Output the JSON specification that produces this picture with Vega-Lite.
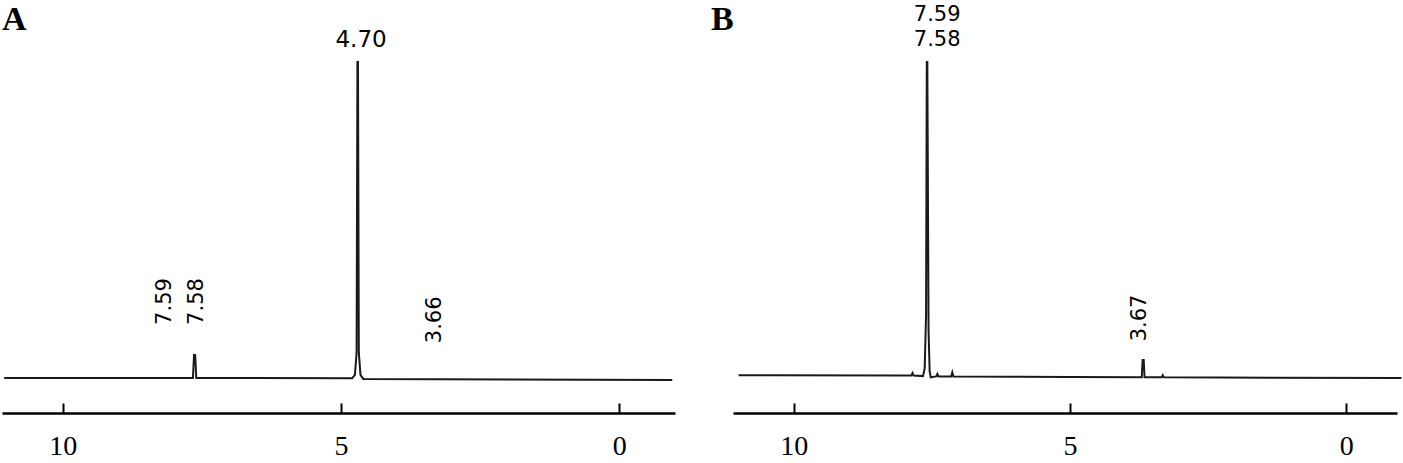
{
  "$schema": "https://vega.github.io/schema/vega-lite/v6.json",
  "padding": 0,
  "background": "white",
  "config": {"view": {"stroke": null}},
  "spacing": 58,
  "bounds": "flush",
  "datasets": {
    "specA": [
      {"ppm": 11.05, "v": 0},
      {"ppm": 7.66, "v": 0},
      {"ppm": 7.64, "v": 7.3},
      {"ppm": 7.62, "v": 7.3},
      {"ppm": 7.60, "v": 0},
      {"ppm": 4.80, "v": -0.1},
      {"ppm": 4.75, "v": 1.0},
      {"ppm": 4.72, "v": 8},
      {"ppm": 4.705, "v": 100},
      {"ppm": 4.695, "v": 100},
      {"ppm": 4.68, "v": 8},
      {"ppm": 4.65, "v": 1.0},
      {"ppm": 4.60, "v": -0.3},
      {"ppm": -0.95, "v": -0.6}
    ],
    "specB": [
      {"ppm": 11.0, "v": 0.9},
      {"ppm": 8.0, "v": 0.8},
      {"ppm": 7.87, "v": 0.8},
      {"ppm": 7.85, "v": 1.6},
      {"ppm": 7.83, "v": 0.8},
      {"ppm": 7.66, "v": 0.6},
      {"ppm": 7.63, "v": 3},
      {"ppm": 7.605, "v": 20},
      {"ppm": 7.592, "v": 100},
      {"ppm": 7.582, "v": 100},
      {"ppm": 7.56, "v": 15},
      {"ppm": 7.54, "v": 2},
      {"ppm": 7.52, "v": 0.2},
      {"ppm": 7.42, "v": 0.5},
      {"ppm": 7.40, "v": 1.3},
      {"ppm": 7.38, "v": 0.5},
      {"ppm": 7.15, "v": 0.5},
      {"ppm": 7.13, "v": 1.8},
      {"ppm": 7.11, "v": 0.5},
      {"ppm": 5.0, "v": 0.3},
      {"ppm": 3.70, "v": 0.2},
      {"ppm": 3.685, "v": 5.7},
      {"ppm": 3.665, "v": 5.7},
      {"ppm": 3.65, "v": 0.2},
      {"ppm": 3.34, "v": 0.2},
      {"ppm": 3.32, "v": 0.9},
      {"ppm": 3.30, "v": 0.2},
      {"ppm": -1.0, "v": 0}
    ],
    "horizA": [{"ppm": 4.64, "v": 107.0, "label": "4.70"}],
    "rotA": [
      {"ppm": 8.155, "v": 24.2, "label": "7.59"},
      {"ppm": 7.58, "v": 24.2, "label": "7.58"},
      {"ppm": 3.316, "v": 18.4, "label": "3.66"}
    ],
    "panelA": [{"ppm": 11.09, "v": 110.0, "label": "A"}],
    "horizB": [
      {"ppm": 7.404, "v": 115.0, "label": "7.59"},
      {"ppm": 7.404, "v": 107.1, "label": "7.58"}
    ],
    "rotB": [{"ppm": 3.727, "v": 19.0, "label": "3.67"}],
    "panelB": [{"ppm": 11.5, "v": 110.0, "label": "B"}]
  },
  "hconcat": [
    {
      "width": 673,
      "height": 413,
      "layer": [
        {
          "data": {"name": "specA"},
          "mark": {"type": "line", "color": "#1a1a1a", "strokeWidth": 2, "clip": false},
          "encoding": {
            "x": {"field": "ppm", "type": "quantitative", "sort": null,
                  "scale": {"domain": [11.09, -1.0], "nice": false, "zero": false},
                  "axis": {"values": [10, 5, 0], "title": null, "grid": false, "domainColor": "black", "domainWidth": 2.5,
                           "tickColor": "black", "tickWidth": 2, "tickSize": -10, "labelPadding": 29,
                           "labelFont": "Liberation Serif", "labelFontSize": 28, "labelColor": "black",
                           "format": "d", "labelFlush": false, "labelOverlap": false}},
            "y": {"field": "v", "type": "quantitative",
                  "scale": {"domain": [-11.08, 119.6], "nice": false, "zero": false}, "axis": null},
            "order": {"field": "ppm", "sort": "descending"}
          }
        },
        {
          "data": {"name": "horizA"},
          "mark": {"type": "text", "font": "DejaVu Sans", "fontSize": 23, "color": "black", "baseline": "middle", "align": "center"},
          "encoding": {"x": {"field": "ppm", "type": "quantitative"}, "y": {"field": "v", "type": "quantitative"}, "text": {"field": "label"}}
        },
        {
          "data": {"name": "rotA"},
          "mark": {"type": "text", "font": "DejaVu Sans", "fontSize": 21, "color": "black", "baseline": "middle", "align": "center", "angle": 270},
          "encoding": {"x": {"field": "ppm", "type": "quantitative"}, "y": {"field": "v", "type": "quantitative"}, "text": {"field": "label"}}
        },
        {
          "data": {"name": "panelA"},
          "mark": {"type": "text", "font": "Liberation Serif", "fontWeight": "bold", "fontSize": 34, "color": "black", "baseline": "alphabetic", "align": "left"},
          "encoding": {"x": {"field": "ppm", "type": "quantitative"}, "y": {"field": "v", "type": "quantitative"}, "text": {"field": "label"}}
        }
      ]
    },
    {
      "width": 664,
      "height": 413,
      "layer": [
        {
          "data": {"name": "specB"},
          "mark": {"type": "line", "color": "#1a1a1a", "strokeWidth": 2, "clip": false},
          "encoding": {
            "x": {"field": "ppm", "type": "quantitative", "sort": null,
                  "scale": {"domain": [11.1, -0.92], "nice": false, "zero": false},
                  "axis": {"values": [10, 5, 0], "title": null, "grid": false, "domainColor": "black", "domainWidth": 2.5,
                           "tickColor": "black", "tickWidth": 2, "tickSize": -10, "labelPadding": 29,
                           "labelFont": "Liberation Serif", "labelFontSize": 28, "labelColor": "black",
                           "format": "d", "labelFlush": false, "labelOverlap": false}},
            "y": {"field": "v", "type": "quantitative",
                  "scale": {"domain": [-11.08, 119.6], "nice": false, "zero": false}, "axis": null},
            "order": {"field": "ppm", "sort": "descending"}
          }
        },
        {
          "data": {"name": "horizB"},
          "mark": {"type": "text", "font": "DejaVu Sans", "fontSize": 21, "color": "black", "baseline": "middle", "align": "center"},
          "encoding": {"x": {"field": "ppm", "type": "quantitative"}, "y": {"field": "v", "type": "quantitative"}, "text": {"field": "label"}}
        },
        {
          "data": {"name": "rotB"},
          "mark": {"type": "text", "font": "DejaVu Sans", "fontSize": 21, "color": "black", "baseline": "middle", "align": "center", "angle": 270},
          "encoding": {"x": {"field": "ppm", "type": "quantitative"}, "y": {"field": "v", "type": "quantitative"}, "text": {"field": "label"}}
        },
        {
          "data": {"name": "panelB"},
          "mark": {"type": "text", "font": "Liberation Serif", "fontWeight": "bold", "fontSize": 34, "color": "black", "baseline": "alphabetic", "align": "left"},
          "encoding": {"x": {"field": "ppm", "type": "quantitative"}, "y": {"field": "v", "type": "quantitative"}, "text": {"field": "label"}}
        }
      ]
    }
  ]
}
